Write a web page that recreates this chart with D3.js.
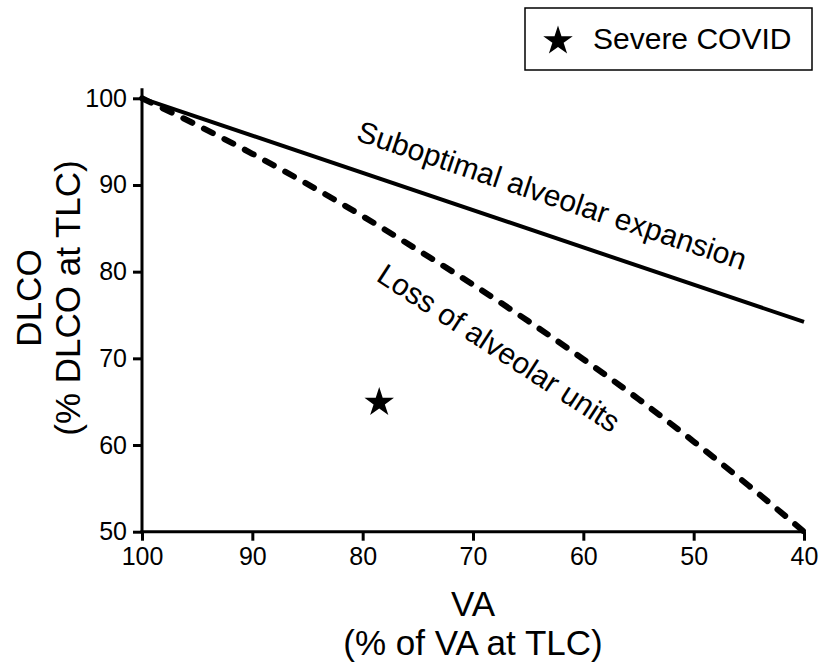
<!DOCTYPE html>
<html>
<head>
<meta charset="utf-8">
<script src="https://cdn.jsdelivr.net/npm/d3@7"></script>
<style>
  html, body { margin: 0; padding: 0; background: #fff; }
  svg { display: block; font-family: "Liberation Sans", Arial, Helvetica, sans-serif; }
</style>
</head>
<body>
<svg id="chart" width="822" height="664"></svg>
<script>
// ---- data ----
const xTicks = [100, 90, 80, 70, 60, 50, 40];
const yTicks = [50, 60, 70, 80, 90, 100];

// Suboptimal alveolar expansion (solid line)
const expansionVA = [100, 40];
const expansionDLCO = [100, 74.2];

// Loss of alveolar units (dashed curve)
const lossVA   = [100, 95, 90, 85, 80, 75, 70, 65, 60, 55, 50, 45, 40];
const lossDLCO = [100, 96.9, 93.6, 90.1, 86.4, 82.5, 78.5, 74.3, 69.9, 65.3, 60.4, 55.3, 50];

// Severe COVID point
const covidVA = [78.5];
const covidDLCO = [64.9];

const legendLabels = ["Severe COVID"];
const xTitle = ["VA", "(% of VA at TLC)"];
const yTitle = ["DLCO", "(% DLCO at TLC)"];
const annotations = ["Suboptimal alveolar expansion", "Loss of alveolar units"];

// ---- chart ----
const svg = d3.select("#chart");
const x = d3.scaleLinear().domain([100, 40]).range([142, 804]);
const y = d3.scaleLinear().domain([50, 100]).range([531.7, 98.3]);

const line = d3.line().x(d => x(d[0])).y(d => y(d[1]));
const lineCurve = d3.line().x(d => x(d[0])).y(d => y(d[1])).curve(d3.curveMonotoneX);

// dashed curve
svg.append("path")
  .datum(lossVA.map((v, i) => [v, lossDLCO[i]]))
  .attr("d", lineCurve)
  .attr("fill", "none")
  .attr("stroke", "#000")
  .attr("stroke-width", 6)
  .attr("stroke-linecap", "round")
  .attr("stroke-dasharray", "10,13");

// solid line
svg.append("path")
  .datum(expansionVA.map((v, i) => [v, expansionDLCO[i]]))
  .attr("d", line)
  .attr("fill", "none")
  .attr("stroke", "#000")
  .attr("stroke-width", 4);

// axes
const xAxis = d3.axisBottom(x).tickValues(xTicks).tickSize(9).tickPadding(7).tickFormat(d3.format("d"));
const yAxis = d3.axisLeft(y).tickValues(yTicks).tickSize(9).tickPadding(6).tickFormat(d3.format("d"));

const gx = svg.append("g").attr("transform", `translate(0,${y(50)})`).call(xAxis);
const gy = svg.append("g").attr("transform", `translate(${x(100)},0)`).call(yAxis);

[gx, gy].forEach(g => {
  g.select(".domain").remove();
  g.selectAll(".tick line").attr("stroke", "#000").attr("stroke-width", 3);
  g.selectAll(".tick text").attr("fill", "#000").style("font-size", "25px")
    .style("font-family", "'Liberation Sans', Arial, sans-serif");
});

// axis lines
svg.append("line")
  .attr("x1", x(100)).attr("x2", x(100))
  .attr("y1", y(50) + 1.5).attr("y2", y(100) - 10)
  .attr("stroke", "#000").attr("stroke-width", 3);
svg.append("line")
  .attr("x1", x(100) - 1.5).attr("x2", x(40) + 1.5)
  .attr("y1", y(50)).attr("y2", y(50))
  .attr("stroke", "#000").attr("stroke-width", 3);

// star point
const star = d3.symbol().type(d3.symbolStar).size(270);
svg.selectAll(".pt")
  .data(covidVA.map((v, i) => [v, covidDLCO[i]]))
  .join("path")
  .attr("transform", d => `translate(${x(d[0])},${y(d[1])})`)
  .attr("d", star)
  .attr("fill", "#000");

// annotations
svg.append("text")
  .attr("transform", "translate(355,140) rotate(18.6)")
  .style("font-size", "30px")
  .text(annotations[0]);

svg.append("text")
  .attr("transform", "translate(375,280) rotate(33)")
  .style("font-size", "30px")
  .text(annotations[1]);

// axis titles
const xt = svg.append("text").attr("text-anchor", "middle").style("font-size", "35px");
xt.append("tspan").attr("x", 473).attr("y", 616).text(xTitle[0]);
xt.append("tspan").attr("x", 473).attr("y", 655).text(xTitle[1]);

const yt = svg.append("text").attr("text-anchor", "middle").style("font-size", "35px")
  .attr("transform", "translate(0,298) rotate(-90)");
yt.append("tspan").attr("x", 0).attr("y", 41).text(yTitle[0]);
yt.append("tspan").attr("x", 0).attr("y", 80).text(yTitle[1]);

// legend
svg.append("rect")
  .attr("x", 525).attr("y", 8).attr("width", 287).attr("height", 62)
  .attr("fill", "#fff").attr("stroke", "#000").attr("stroke-width", 1.5);
svg.append("path")
  .attr("transform", "translate(558,41)")
  .attr("d", star)
  .attr("fill", "#000");
svg.append("text")
  .attr("x", 593).attr("y", 49)
  .style("font-size", "30px")
  .text(legendLabels[0]);
</script>
</body>
</html>
